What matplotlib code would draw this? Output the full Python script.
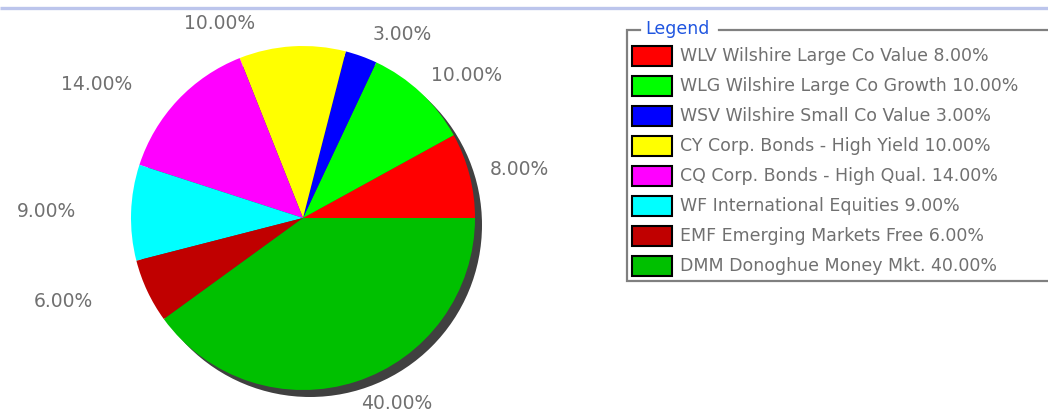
import numpy as np
import matplotlib
matplotlib.use("Agg")
from matplotlib import pyplot as plt
from matplotlib.patches import Rectangle, Circle

codes = ["WLV", "WLG", "WSV", "CY", "CQ", "WF", "EMF", "DMM"]
names = ["Wilshire Large Co Value", "Wilshire Large Co Growth",
         "Wilshire Small Co Value", "Corp. Bonds - High Yield",
         "Corp. Bonds - High Qual.", "International Equities",
         "Emerging Markets Free", "Donoghue Money Mkt."]
shares = [8.0, 10.0, 3.0, 10.0, 14.0, 9.0, 6.0, 40.0]
colors = ["#ff0000", "#00ff00", "#0000ff", "#ffff00", "#ff00ff",
          "#00ffff", "#c00000", "#00c000"]

W, H = 1048, 409
TXT = "#707070"
plt.rcParams['font.family'] = ['DejaVu Sans']

fig = plt.figure(figsize=(W / 100, H / 100), dpi=100)
ax = fig.add_axes([0, 0, 1, 1])

# pie layout in pixel units (y measured upwards)
cx, cy, r = 303, H - 218, 172

ax.add_patch(Circle((cx + 7, cy - 7), r, color="#404040", lw=0, zorder=1))
wedges, _ = ax.pie(shares, colors=colors, startangle=0, counterclock=True,
                   center=(cx, cy), radius=r, wedgeprops=dict(linewidth=0))
for w in wedges:
    w.set_zorder(2)

ax.set_xlim(0, W)
ax.set_ylim(0, H)
ax.set_aspect("auto")
ax.axis("off")

# top rule
ax.plot([0, W], [H - 7.7, H - 7.7], color="#bcc5ec", lw=2.4, solid_capstyle="butt")

# percentage labels around the pie (label ring is a bit wider than tall)
cum = np.cumsum([0] + shares)
for i, s in enumerate(shares):
    ang = np.deg2rad((cum[i] + s / 2) / 100 * 360)
    c, sn = np.cos(ang), np.sin(ang)
    push = 37 if c >= 0 else -72
    ax.text(cx + 185 * c + push, cy + 195 * sn, f"{s:.2f}%", color=TXT,
            fontsize=13.5, ha="center", va="center")

# legend box
lx0, ly_top, ly_bot = 627, H - 29.5, H - 281
ax.plot([640, lx0, lx0, W + 5], [ly_top, ly_top, ly_bot, ly_bot],
        color="#808080", lw=1.6, solid_joinstyle="miter")
ax.plot([719, W + 5], [ly_top, ly_top], color="#808080", lw=1.6)
ax.text(645, ly_top, "Legend", color="#1f55e0", fontsize=12.5,
        ha="left", va="center")

for i, (cd, nm, s, col) in enumerate(zip(codes, names, shares, colors)):
    yc = H - (56 + 30 * i)
    ax.add_patch(Rectangle((632, yc - 10), 40, 20, facecolor=col,
                           edgecolor="black", lw=1.5))
    ax.text(680, yc, f"{cd} {nm} {s:.2f}%", color=TXT, fontsize=12.5,
            ha="left", va="center")

fig.savefig("out.png", dpi=100)
